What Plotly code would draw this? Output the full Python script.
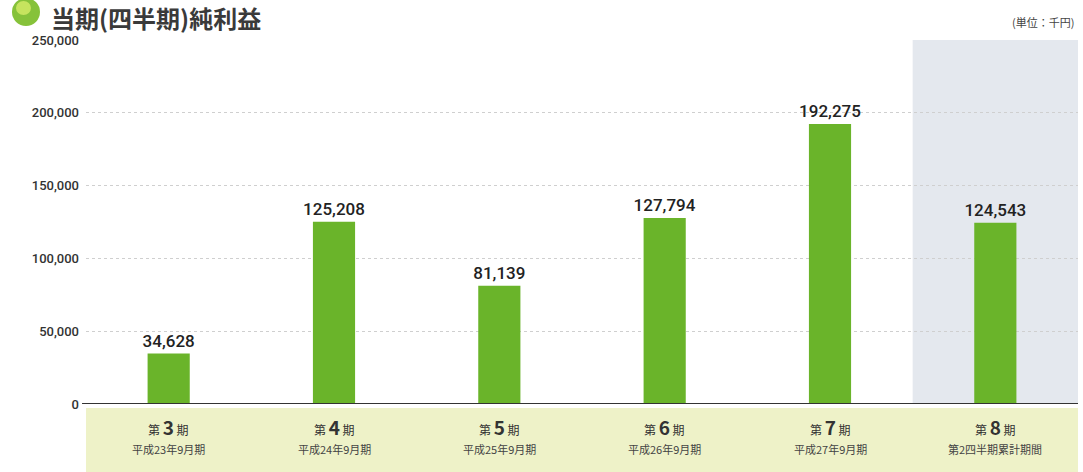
import plotly.graph_objects as go

periods = ["3", "4", "5", "6", "7", "8"]
sublabels = ["平成23年9月期", "平成24年9月期", "平成25年9月期", "平成26年9月期", "平成27年9月期", "第2四半期累計期間"]
values = [34628, 125208, 81139, 127794, 192275, 124543]
value_labels = ["34,628", "125,208", "81,139", "127,794", "192,275", "124,543"]
ytick_vals = [0, 50000, 100000, 150000, 200000, 250000]
ytick_text = ["0", "50,000", "100,000", "150,000", "200,000", "250,000"]

W, H = 1083, 472
L, R, T, B = 86, 5, 40, 68
pw = W - L - R
ph = H - T - B

def px_x(p):
    return (p - L) / pw

def px_y(p):
    return (H - B - p) / ph

FONT = "Noto Sans CJK JP"
NUMFONT = "Roboto, DejaVu Sans"

xs = list(range(len(values)))

fig = go.Figure()
fig.add_trace(go.Bar(
    x=xs, y=values, width=0.255,
    marker=dict(color="#6ab42a", line=dict(width=0)),
    text=value_labels, textposition="outside", cliponaxis=False,
    constraintext="none",
    textfont=dict(size=17, color="#222222", family=NUMFONT, weight=500),
    hoverinfo="skip",
))

shapes = [
    dict(type="rect", xref="x", yref="y", x0=4.5, x1=5.5, y0=0, y1=250000,
         fillcolor="#e4e8ee", line=dict(width=0), layer="below"),
    dict(type="rect", xref="paper", yref="paper", x0=0, x1=1,
         y0=px_y(472), y1=px_y(408), fillcolor="#eef2c8", line=dict(width=0), layer="below"),
    dict(type="line", xref="paper", yref="y", x0=-0.004, x1=1, y0=0, y1=0,
         line=dict(color="#333333", width=2)),
    dict(type="circle", xref="paper", yref="paper",
         x0=px_x(12), x1=px_x(40), y0=px_y(26), y1=px_y(-2),
         fillcolor="#86c23a", line=dict(width=0)),
    dict(type="circle", xref="paper", yref="paper",
         x0=px_x(16), x1=px_x(31), y0=px_y(15), y1=px_y(1),
         fillcolor="#c6e45e", line=dict(width=0)),
]

annotations = [
    dict(text="当期(四半期)純利益", xref="paper", yref="paper",
         x=px_x(50), y=px_y(17), xanchor="left", yanchor="middle", showarrow=False,
         borderpad=0,
         font=dict(size=24, color="#3a3a3a", family=FONT, weight="bold")),
    dict(text="(単位：千円)", xref="paper", yref="paper",
         x=px_x(1076), y=px_y(22), xanchor="right", yanchor="middle", showarrow=False,
         font=dict(size=11, color="#444444", family=FONT)),
]
for i, (p, s) in enumerate(zip(periods, sublabels)):
    annotations.append(dict(
        text=f"<span style='font-size:12px'>第 </span><b><span style='font-size:19px'>{p}</span></b><span style='font-size:12px'> 期</span>",
        xref="x", yref="paper", x=i, y=px_y(426), xanchor="center", yanchor="middle",
        showarrow=False, font=dict(size=12, color="#333333", family=FONT)))
    annotations.append(dict(
        text=s, xref="x", yref="paper", x=i, y=px_y(449), xanchor="center", yanchor="middle",
        showarrow=False, font=dict(size=11, color="#444444", family=FONT)))

fig.update_layout(
    width=W, height=H,
    margin=dict(l=L, r=R, t=T, b=B, pad=0),
    paper_bgcolor="white", plot_bgcolor="white",
    showlegend=False,
    bargap=0.7,
    shapes=shapes, annotations=annotations,
    xaxis=dict(range=[-0.5, 5.5], showticklabels=False, showgrid=False,
               zeroline=False, showline=False, fixedrange=True),
    yaxis=dict(range=[0, 250000], tickvals=ytick_vals, ticktext=ytick_text,
               showgrid=True, gridcolor="#cfcfcf", griddash="dot", gridwidth=1,
               zeroline=False, showline=False, ticks="", ticklabelstandoff=6,
               tickfont=dict(size=13, color="#333333", family=NUMFONT, weight=500),
               fixedrange=True),
)

fig.write_html("out.html")
